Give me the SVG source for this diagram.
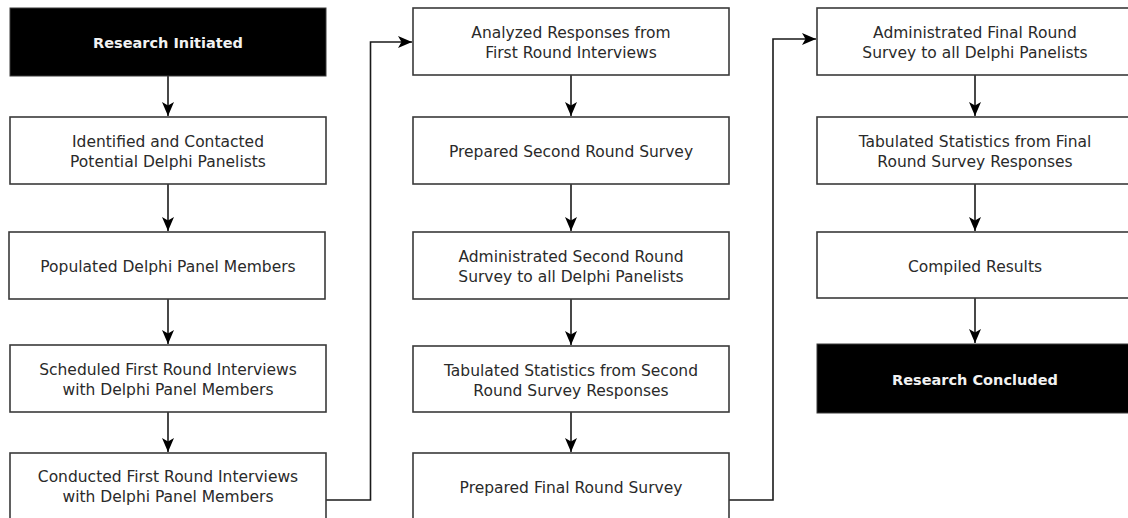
<svg xmlns="http://www.w3.org/2000/svg" width="1128" height="518" viewBox="0 0 1128 518">
  <defs>
    <style>
      .box { fill: #ffffff; stroke: #3a3a3a; stroke-width: 1.6; }
      .term { fill: #000000; stroke: #3a3a3a; stroke-width: 1; }
      .lbl { font-family: "DejaVu Sans", "Liberation Sans", sans-serif; font-size: 15.5px; fill: #2a2a2a; text-anchor: middle; }
      .tlbl { font-family: "DejaVu Sans", "Liberation Sans", sans-serif; font-size: 14.5px; font-weight: bold; fill: #f2f2f2; text-anchor: middle; }
      .edge { fill: none; stroke: #1a1a1a; stroke-width: 1.6; }
    </style>
    <marker id="arrow" viewBox="-15 -7 16 14" refX="0" refY="0" markerWidth="16" markerHeight="14" markerUnits="userSpaceOnUse" orient="auto">
      <path d="M0,0 L-14,-6 L-10.5,0 L-14,6 Z" fill="#000000"/>
    </marker>
  </defs>

  <rect width="1128" height="518" fill="#ffffff"/>

  <!-- connectors -->
  <g id="connectors">
    <line class="edge" x1="168" y1="75" x2="168" y2="116" marker-end="url(#arrow)"/>
    <line class="edge" x1="168" y1="184" x2="168" y2="231" marker-end="url(#arrow)"/>
    <line class="edge" x1="168" y1="299" x2="168" y2="344" marker-end="url(#arrow)"/>
    <line class="edge" x1="168" y1="412" x2="168" y2="452" marker-end="url(#arrow)"/>
    <polyline class="edge" points="326,500 370.5,500 370.5,42 412,42" marker-end="url(#arrow)"/>

    <line class="edge" x1="571" y1="75" x2="571" y2="116" marker-end="url(#arrow)"/>
    <line class="edge" x1="571" y1="184" x2="571" y2="231" marker-end="url(#arrow)"/>
    <line class="edge" x1="571" y1="299" x2="571" y2="345" marker-end="url(#arrow)"/>
    <line class="edge" x1="571" y1="412" x2="571" y2="452" marker-end="url(#arrow)"/>
    <polyline class="edge" points="729,500 773,500 773,39 816,39" marker-end="url(#arrow)"/>

    <line class="edge" x1="975" y1="75" x2="975" y2="116" marker-end="url(#arrow)"/>
    <line class="edge" x1="975" y1="184" x2="975" y2="231" marker-end="url(#arrow)"/>
    <line class="edge" x1="975" y1="298" x2="975" y2="343" marker-end="url(#arrow)"/>
  </g>

  <!-- column 1 -->
  <g id="research-initiated">
    <rect class="term" x="10" y="8" width="316" height="68"/>
    <text class="tlbl" x="168" y="48">Research Initiated</text>
  </g>
  <g id="identified-panelists">
    <rect class="box" x="10" y="117" width="316" height="67"/>
    <text class="lbl" x="168" y="147">Identified and Contacted</text>
    <text class="lbl" x="168" y="167">Potential Delphi Panelists</text>
  </g>
  <g id="populated-panel">
    <rect class="box" x="9" y="232" width="316" height="67"/>
    <text class="lbl" x="168" y="272">Populated Delphi Panel Members</text>
  </g>
  <g id="scheduled-interviews">
    <rect class="box" x="10" y="345" width="316" height="67"/>
    <text class="lbl" x="168" y="374.5">Scheduled First Round Interviews</text>
    <text class="lbl" x="168" y="394.5">with Delphi Panel Members</text>
  </g>
  <g id="conducted-interviews">
    <rect class="box" x="10" y="453" width="316" height="70"/>
    <text class="lbl" x="168" y="482">Conducted First Round Interviews</text>
    <text class="lbl" x="168" y="502">with Delphi Panel Members</text>
  </g>

  <!-- column 2 -->
  <g id="analyzed-responses">
    <rect class="box" x="413" y="8" width="316" height="67"/>
    <text class="lbl" x="571" y="38">Analyzed Responses from</text>
    <text class="lbl" x="571" y="58">First Round Interviews</text>
  </g>
  <g id="prepared-second-survey">
    <rect class="box" x="413" y="117" width="316" height="67"/>
    <text class="lbl" x="571" y="157">Prepared Second Round Survey</text>
  </g>
  <g id="administrated-second-survey">
    <rect class="box" x="413" y="232" width="316" height="67"/>
    <text class="lbl" x="571" y="262">Administrated Second Round</text>
    <text class="lbl" x="571" y="282">Survey to all Delphi Panelists</text>
  </g>
  <g id="tabulated-second-stats">
    <rect class="box" x="413" y="346" width="316" height="66"/>
    <text class="lbl" x="571" y="375.5">Tabulated Statistics from Second</text>
    <text class="lbl" x="571" y="395.5">Round Survey Responses</text>
  </g>
  <g id="prepared-final-survey">
    <rect class="box" x="413" y="453" width="316" height="70"/>
    <text class="lbl" x="571" y="493">Prepared Final Round Survey</text>
  </g>

  <!-- column 3 -->
  <g id="administrated-final-survey">
    <rect class="box" x="817" y="8" width="316" height="67"/>
    <text class="lbl" x="975" y="38">Administrated Final Round</text>
    <text class="lbl" x="975" y="58">Survey to all Delphi Panelists</text>
  </g>
  <g id="tabulated-final-stats">
    <rect class="box" x="817" y="117" width="316" height="67"/>
    <text class="lbl" x="975" y="147">Tabulated Statistics from Final</text>
    <text class="lbl" x="975" y="167">Round Survey Responses</text>
  </g>
  <g id="compiled-results">
    <rect class="box" x="817" y="232" width="316" height="66"/>
    <text class="lbl" x="975" y="272">Compiled Results</text>
  </g>
  <g id="research-concluded">
    <rect class="term" x="817" y="344" width="316" height="69"/>
    <text class="tlbl" x="975" y="385">Research Concluded</text>
  </g>
</svg>
